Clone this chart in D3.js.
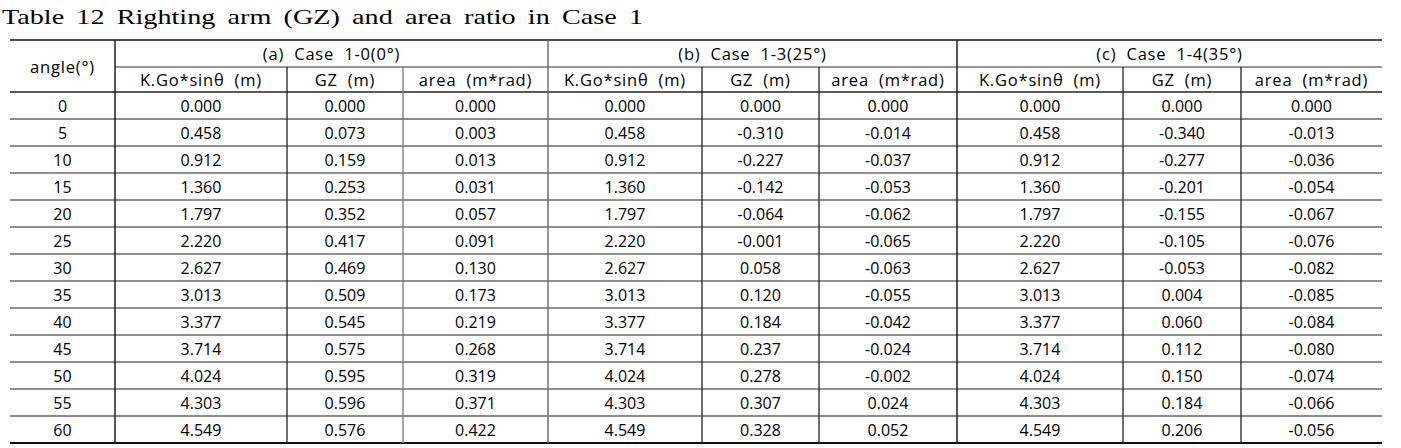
<!DOCTYPE html>
<html>
<head>
<meta charset="utf-8">
<script src="https://cdn.jsdelivr.net/npm/d3@7"></script>
<style>
  body { margin: 0; background: #fff; }
  text { fill: #000; }
  .cell { font-family: "Open Sans", "Noto Sans", sans-serif; font-size: 16px; }
  .head { font-size: 16.5px; letter-spacing: 0.8px; word-spacing: 5px; }
  .title { font-family: "Liberation Serif", "DejaVu Serif", serif; font-size: 22px; word-spacing: 4px; }
</style>
</head>
<body>
<div id="table"></div>
<script>
// Table values
let angles = [0, 5, 10, 15, 20, 25, 30, 35, 40, 45, 50, 55, 60];
let caseNames = ["(a) Case 1-0(0°)", "(b) Case 1-3(25°)", "(c) Case 1-4(35°)"];
let subHeads = ["K.Go*sinθ (m)", "GZ (m)", "area (m*rad)"];

let kgoSin = [0.000, 0.458, 0.912, 1.360, 1.797, 2.220, 2.627, 3.013, 3.377, 3.714, 4.024, 4.303, 4.549];

let gzA = [0.000, 0.073, 0.159, 0.253, 0.352, 0.417, 0.469, 0.509, 0.545, 0.575, 0.595, 0.596, 0.576];
let areaA = [0.000, 0.003, 0.013, 0.031, 0.057, 0.091, 0.130, 0.173, 0.219, 0.268, 0.319, 0.371, 0.422];

let gzB = [0.000, -0.310, -0.227, -0.142, -0.064, -0.001, 0.058, 0.120, 0.184, 0.237, 0.278, 0.307, 0.328];
let areaB = [0.000, -0.014, -0.037, -0.053, -0.062, -0.065, -0.063, -0.055, -0.042, -0.024, -0.002, 0.024, 0.052];

let gzC = [0.000, -0.340, -0.277, -0.201, -0.155, -0.105, -0.053, 0.004, 0.060, 0.112, 0.150, 0.184, 0.206];
let areaC = [0.000, -0.013, -0.036, -0.054, -0.067, -0.076, -0.082, -0.085, -0.084, -0.080, -0.074, -0.066, -0.056];

let columns = [kgoSin, gzA, areaA, kgoSin, gzB, areaB, kgoSin, gzC, areaC];

let svgWidth = 1401;
let svgHeight = 448;

// layout: column edges (x) and header lines (y)
let colEdges = [10, 115, 287, 403, 548, 702, 819, 957, 1123, 1241, 1382];
let tableTop = 40, midHead = 67, headBottom = 92, tableBottom = 443;

let svg = d3.select("#table")
  .append("svg")
  .attr("width", svgWidth)
  .attr("height", svgHeight);

svg.append("text")
  .attr("class", "title")
  .attr("x", 2)
  .attr("y", 24)
  .attr("textLength", 641)
  .attr("lengthAdjust", "spacingAndGlyphs")
  .text("Table 12 Righting arm (GZ) and area ratio in Case 1");

// row scale
let y = d3.scaleBand()
  .domain(angles)
  .range([headBottom, tableBottom]);

let colMid = i => (colEdges[i] + colEdges[i + 1]) / 2;

let lines = svg.append("g");

function hline(x1, x2, yy, color, w) {
  lines.append("line")
    .attr("x1", x1).attr("x2", x2)
    .attr("y1", yy).attr("y2", yy)
    .attr("stroke", color).attr("stroke-width", w);
}
function vline(xx, y1, y2, color, w) {
  lines.append("line")
    .attr("x1", xx).attr("x2", xx)
    .attr("y1", y1).attr("y2", y2)
    .attr("stroke", color).attr("stroke-width", w);
}

// outer top / bottom
hline(colEdges[0], colEdges[10], tableTop, "#111", 1.6);
hline(colEdges[0], colEdges[10], tableBottom, "#111", 1.8);
// header inner lines
hline(colEdges[1], colEdges[10], midHead, "#333", 1.2);
hline(colEdges[0], colEdges[10], headBottom, "#222", 1.3);

// row lines
angles.slice(0, -1).forEach((a, i) => {
  let yy = y(a) + y.bandwidth();
  let gray = (i === 0 || i === angles.length - 2);
  hline(colEdges[0], colEdges[10], yy, gray ? "#8a8a8a" : "#222", gray ? 2 : 1.2);
});

// vertical lines
vline(colEdges[1], tableTop, tableBottom, "#111", 1.4);
[4, 7].forEach(i => vline(colEdges[i], tableTop, tableBottom, i === 4 ? "#666" : "#111", 1.4));
[2, 3, 5, 6, 8, 9].forEach(i => vline(colEdges[i], midHead, tableBottom, i === 3 ? "#777" : "#222", 1.3));

// header text
svg.append("text")
  .attr("class", "cell head")
  .attr("x", colMid(0))
  .attr("y", (tableTop + headBottom) / 2)
  .attr("text-anchor", "middle")
  .attr("dominant-baseline", "central")
  .text("angle(°)");

caseNames.forEach((name, k) => {
  svg.append("text")
    .attr("class", "cell head")
    .attr("x", (colEdges[1 + k * 3] + colEdges[4 + k * 3]) / 2)
    .attr("y", (tableTop + midHead) / 2)
    .attr("text-anchor", "middle")
    .attr("dominant-baseline", "central")
    .text(name);
  subHeads.forEach((s, j) => {
    svg.append("text")
      .attr("class", "cell head")
      .attr("x", colMid(1 + k * 3 + j))
      .attr("y", (midHead + headBottom) / 2)
      .attr("text-anchor", "middle")
      .attr("dominant-baseline", "central")
      .text(s);
  });
});

// body cells
let body = svg.append("g");
body.selectAll("text.angle")
  .data(angles)
  .enter()
  .append("text")
  .attr("class", "cell angle")
  .attr("x", colMid(0))
  .attr("y", d => y(d) + y.bandwidth() / 2)
  .attr("text-anchor", "middle")
  .attr("dominant-baseline", "central")
  .text(d => d);

columns.forEach((vals, c) => {
  body.selectAll(null)
    .data(vals)
    .enter()
    .append("text")
    .attr("class", "cell")
    .attr("x", colMid(c + 1))
    .attr("y", (d, i) => y(angles[i]) + y.bandwidth() / 2)
    .attr("text-anchor", "middle")
    .attr("dominant-baseline", "central")
    .text(d => d3.format(".3f")(d).replace("−", "-"));
});
</script>
</body>
</html>
